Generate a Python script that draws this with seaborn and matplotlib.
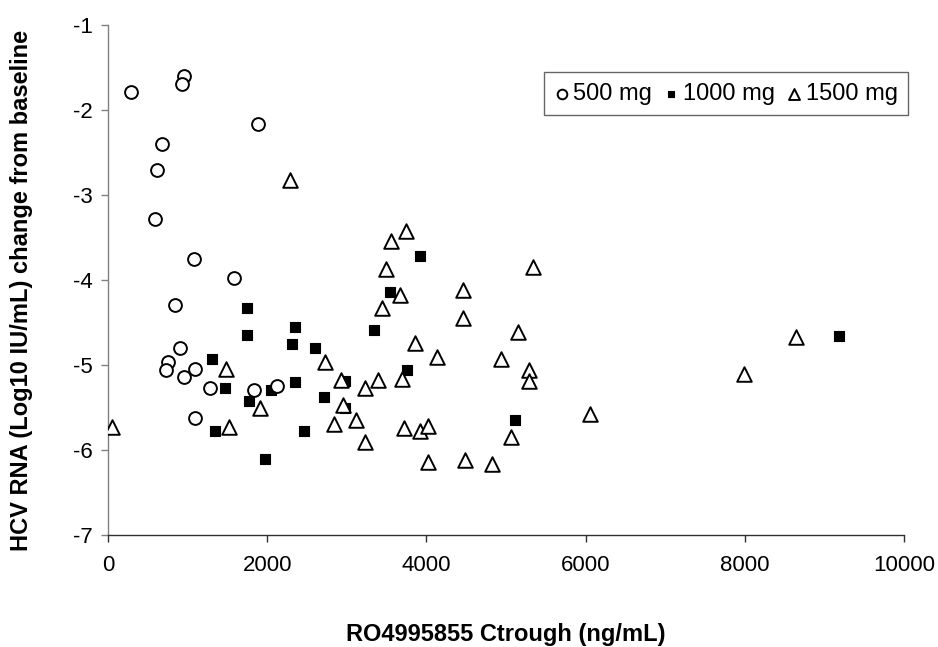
import pandas as pd
import numpy as np
import matplotlib
matplotlib.use('Agg')
import matplotlib.pyplot as plt
import seaborn as sns

# 500 mg (open circles)
x_500 = [289, 958, 933, 1881, 678, 612, 590, 1077, 1583, 845, 908, 750, 729, 959, 1097, 1281, 1834, 2119, 1097]
y_500 = [-1.79, -1.60, -1.69, -2.16, -2.40, -2.70, -3.28, -3.75, -3.97, -4.29, -4.80, -4.96, -5.06, -5.14, -5.05,
         -5.27, -5.29, -5.25, -5.62]

# 1000 mg (filled squares)
x_1000 = [1742, 2345, 1742, 2316, 2596, 1307, 1466, 2044, 2345, 1767, 2709, 1348, 2458, 1972, 3915, 3547, 3338,
          3756, 2977, 2977, 5117, 9183]
y_1000 = [-4.33, -4.55, -4.64, -4.75, -4.80, -4.93, -5.27, -5.29, -5.20, -5.42, -5.38, -5.77, -5.77, -6.11, -3.71,
          -4.14, -4.59, -5.06, -5.19, -5.51, -5.65, -4.66]

# 1500 mg (open triangles)
x_1500 = [2286, 1478, 2726, 1914, 46, 1524, 2843, 3744, 3555, 5335, 3488, 3672, 4456, 3442, 4456, 5147, 3857, 4133,
          4941, 5293, 5293, 3693, 3388, 2931, 3233, 2952, 3116, 3719, 3923, 4020, 5059, 3233, 4020, 4481, 4828, 8640,
          7994, 6055]
y_1500 = [-2.82, -5.05, -4.96, -5.50, -5.73, -5.73, -5.69, -3.42, -3.54, -3.84, -3.87, -4.18, -4.12, -4.33, -4.44,
          -4.61, -4.74, -4.91, -4.93, -5.06, -5.19, -5.16, -5.17, -5.17, -5.27, -5.47, -5.64, -5.74, -5.77, -5.72,
          -5.84, -5.91, -6.14, -6.12, -6.16, -4.67, -5.11, -5.58]

doses = ['500 mg', '1000 mg', '1500 mg']
x_ticks = [0, 2000, 4000, 6000, 8000, 10000]
y_ticks = [-7, -6, -5, -4, -3, -2, -1]

df = pd.concat([
    pd.DataFrame({'ctrough': x_500, 'hcv': y_500, 'dose': '500 mg'}),
    pd.DataFrame({'ctrough': x_1000, 'hcv': y_1000, 'dose': '1000 mg'}),
    pd.DataFrame({'ctrough': x_1500, 'hcv': y_1500, 'dose': '1500 mg'}),
], ignore_index=True)

sns.set_style('white')
plt.rcParams['font.family'] = ['Liberation Sans', 'DejaVu Sans']
plt.rcParams['axes.unicode_minus'] = False
plt.rcParams['text.color'] = 'black'
plt.rcParams['axes.labelcolor'] = 'black'

fig = plt.figure(figsize=(9.38, 6.47), dpi=100)
ax = fig.add_axes([0.115, 0.173, 0.849, 0.788])

styles = {
    '1000 mg': dict(marker='s', s=45, color='black', edgecolor='black', linewidth=0.8),
    '500 mg': dict(marker='o', s=85, color='white', edgecolor='black', linewidth=1.4),
    '1500 mg': dict(marker='^', s=110, color='white', edgecolor='black', linewidth=1.4),
}
for dose in ['1000 mg', '500 mg', '1500 mg']:
    sub = df[df['dose'] == dose]
    sns.scatterplot(data=sub, x='ctrough', y='hcv', ax=ax, label=dose, zorder=3, **styles[dose])

ax.set_xlim(0, 10000)
ax.set_ylim(-7, -1)
ax.set_xticks(x_ticks)
ax.set_yticks(y_ticks)
ax.tick_params(axis='both', labelsize=16, labelcolor='black', length=5, width=1, direction='out',
               bottom=True, left=True, pad=6)
ax.tick_params(axis='y', color='#808080')
ax.tick_params(axis='x', color='#303030', pad=9)
for side in ['top', 'right']:
    ax.spines[side].set_visible(False)
ax.spines['left'].set_color('#808080')
ax.spines['bottom'].set_color('#303030')
for side in ['left', 'bottom']:
    ax.spines[side].set_linewidth(1)

ax.set_xlabel('RO4995855 Ctrough (ng/mL)', fontsize=17, weight='bold')
ax.set_ylabel('HCV RNA (Log10 IU/mL) change from baseline', fontsize=17, weight='bold')
ax.xaxis.set_label_coords(0.5, -0.196)
ax.xaxis.label.set_va('center')
ax.yaxis.set_label_coords(-0.108, 0.48)
ax.yaxis.label.set_va('center')

handles, labels = ax.get_legend_handles_labels()
order = [labels.index(d) for d in doses]
leg = ax.legend([handles[i] for i in order], doses, loc='upper right', bbox_to_anchor=(1.005, 0.908),
                ncol=3, fontsize=17, frameon=True, fancybox=False, edgecolor='#404040', markerscale=0.75,
                handletextpad=0.2, columnspacing=0.5, handlelength=0.6, borderpad=0.45, borderaxespad=0)
leg.get_frame().set_linewidth(1)

plt.savefig('out.png', dpi=100)
